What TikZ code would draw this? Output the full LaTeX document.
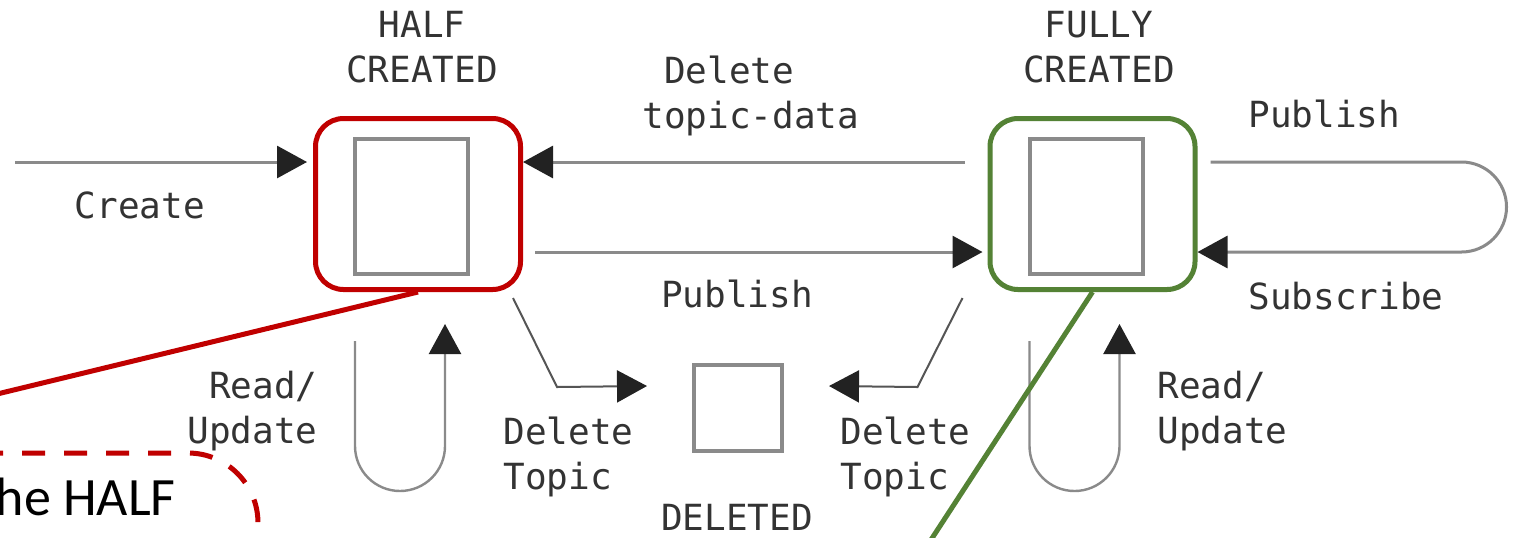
\documentclass[tikz,border=0pt]{standalone}
\usepackage{fontspec}
\setmonofont{DejaVu Sans Mono}
\newfontfamily\calloutfont{Carlito}
\usepackage{xcolor}
\usetikzlibrary{arrows.meta}

\definecolor{hlred}{HTML}{C00000}
\definecolor{hlgreen}{HTML}{548235}
\definecolor{wire}{HTML}{8A8A8A}
\definecolor{wiredark}{HTML}{555555}
\definecolor{tipgray}{HTML}{222222}
\definecolor{txt}{HTML}{333333}

\begin{document}
\begin{tikzpicture}
        [x=.5pt,y=-.5pt,
         lbl/.style={font=\ttfamily\fontsize{18pt}{22.5pt}\selectfont,text=txt,inner sep=0pt},
         statebox/.style={draw=wire,line width=2pt,inner sep=0pt},
         hl/.style={draw=#1,line width=2.5pt,rounded corners=14pt,minimum width=102.5pt,minimum height=85.5pt,inner sep=0pt},
         flow/.style={draw=wire,line width=1.5pt,-{Triangle[length=15pt,width=16pt,color=tipgray]}},
         rwloop/.style={draw=wire,line width=1.2pt,-{Triangle[length=15pt,width=16pt,color=tipgray]}},
         delflow/.style={draw=wiredark,line width=1pt,-{Triangle[length=15pt,width=16pt,color=tipgray]}}]

        \path[use as bounding box,fill=white] (0,0) rectangle (1519,537);
        \clip (0,0) rectangle (1519,537);

        \node[statebox,minimum width=56.5pt,minimum height=67.5pt] (half) at (411.5,206.5) {};
        \node[statebox,minimum width=56.5pt,minimum height=67.5pt] (full) at (1086.5,206.5) {};
        \node[statebox,minimum width=44pt,minimum height=43pt] (deleted) at (738,408) {};

        \node[lbl,align=center] (halflbl) at (422,47) {HALF\\CREATED};
        \node[lbl,align=center] (fulllbl) at (1099,47) {FULLY\\CREATED};
        \node[lbl] (deletedlbl) at (737,517) {DELETED};

        \node[lbl] (createlbl) at (140,205) {Create};
        \node[lbl,align=left,anchor=west] (droplbl) at (642,96) {\phantom{D}Delete\\topic-data};
        \node[lbl] (publbl) at (737,294) {Publish};
        \node[lbl,anchor=west] (publoop) at (1248,114) {Publish};
        \node[lbl,anchor=west] (sublbl) at (1248,296) {Subscribe};
        \node[lbl,align=right,anchor=east] (rwhalf) at (318,411) {Read/\\Update};
        \node[lbl,align=left,anchor=west] (rwfull) at (1157,411) {Read/\\Update};
        \node[lbl,align=left,anchor=west] (delhalf) at (503,457) {Delete\\Topic};
        \node[lbl,align=left,anchor=west] (delfull) at (840,457) {Delete\\Topic};

        \node[hl=hlred] (halfbox) at (418,204) {};
        \node[hl=hlgreen] (fullbox) at (1092.5,204) {};

        \coordinate (src) at (15,162);
        \draw[flow,shorten >=3pt] (src) -- (src -| halfbox.west);
        \draw[flow,shorten <=11.5pt] ([yshift=21pt]fullbox.west) -- ([yshift=21pt]halfbox.east);
        \draw[flow,shorten <=6pt,shorten >=2.5pt] ([yshift=-24pt]halfbox.east) -- ([yshift=-24pt]fullbox.west);
        \draw[flow,shorten <=6.5pt] ([yshift=21pt]fullbox.east) -- ++(264,0)
                arc[start angle=90,end angle=-90,radius=22.5pt] -- ([yshift=-24pt]fullbox.east);

        \draw[rwloop] ([xshift=-31.5pt,yshift=-24.5pt]halfbox.south) -- ++(0,105)
                arc[start angle=180,end angle=360,radius=22.5pt] -- ([xshift=13.5pt,yshift=-16pt]halfbox.south);
        \draw[rwloop] ([xshift=-31.5pt,yshift=-24.5pt]fullbox.south) -- ++(0,105)
                arc[start angle=180,end angle=360,radius=22.5pt] -- ([xshift=13.5pt,yshift=-16pt]fullbox.south);

        \draw[delflow] ([xshift=-5pt,yshift=-3pt]halfbox.south east) -- ++(44,89) -- ([xshift=-22.5pt,yshift=11pt]deleted.west);
        \draw[delflow] ([xshift=-12.5pt,yshift=-3pt]fullbox.south west) -- ++(-45,89) -- ([xshift=22.5pt,yshift=11pt]deleted.east);

        % callouts
        \coordinate (halfcall) at (-40,403);
        \coordinate (fullcall) at (925,549);
        \draw[hlred,line width=2.5pt] (halfbox.south) -- (halfcall);
        \draw[hlgreen,line width=2.5pt] (fullbox.south) -- (fullcall);
        \draw[hlred,line width=2.5pt,dash pattern=on 11.5pt off 9.5pt,rounded corners=35pt] (-20,453) -| (258,600);
        \node[font=\calloutfont\fontsize{27pt}{32pt}\selectfont,anchor=base east,inner sep=0pt] (calltext) at (176,515) {he HALF};
    \end{tikzpicture}
\end{document}
